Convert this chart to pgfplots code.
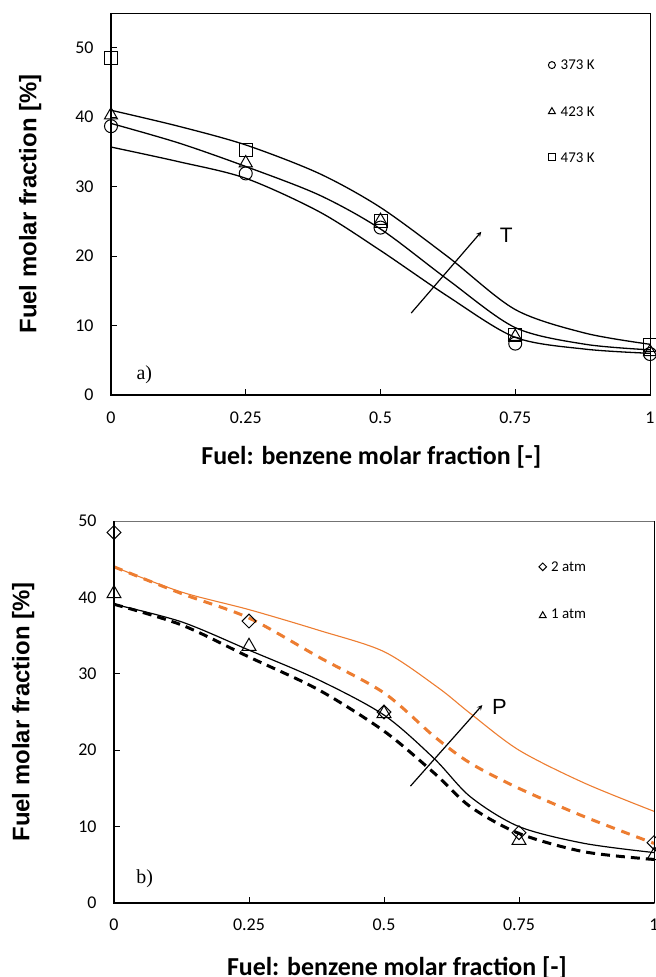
\documentclass[border=0pt]{standalone}
\usepackage{fontspec}
\setmainfont{Carlito}
\newfontfamily\lsans{Liberation Sans}
\newfontfamily\lserif{Liberation Serif}
\usepackage{pgfplots}
\pgfplotsset{compat=1.18}
\definecolor{exorange}{RGB}{237,125,49}
\pgfplotsset{
  panel/.style={
    scale only axis, height=382bp,
    xmin=0, xmax=1, ymin=0,
    xtick={0,0.25,0.5,0.75,1}, xticklabels={0,0.25,0.5,0.75,1},
    ytick={0,10,20,30,40,50},
    tick align=inside, xtick pos=left, ytick pos=left, major tick length=6bp,
    tick style={black, line width=0.8bp},
    ticklabel style={font=\fontsize{18}{20}\selectfont},
    /pgf/number format/assume math mode=true,
    yticklabel shift=14bp,
    clip=false,
  },
  curve/.style={smooth, no markers, black, line width=1.3bp},
  mk/.style={only marks, black, line width=1bp, mark options={solid, fill=white}},
}
\begin{document}
\begin{tikzpicture}
\useasboundingbox (0,0) rectangle (656bp,977bp);
% ---------- panel a ----------
\begin{axis}[panel, width=539bp, at={(111bp,582bp)}, anchor=south west, ymax=55,
  xticklabel shift=13bp,
  axis line style={line width=0.8bp, black},
  xlabel={Fuel: benzene molar fraction [-]},
  ylabel={Fuel molar fraction [\%]},
  every axis x label/.style={at={(rel axis cs:0.483,0)}, anchor=base, yshift=-70bp, font=\bfseries\fontsize{26}{28}\selectfont},
  every axis y label/.style={at={(rel axis cs:0,0.5)}, xshift=-74.5bp, rotate=90, anchor=base, font=\lsans\bfseries\fontsize{24}{26}\selectfont},
]
\addplot[curve] coordinates {(0,35.7)(0.125,33.6)(0.25,31.2)(0.386,26.4)(0.5,20.8)(0.625,14.2)(0.75,8.3)(0.88,6.6)(1,6.0)};
\addplot[curve] coordinates {(0,39.1)(0.125,36.3)(0.25,32.9)(0.386,28.8)(0.5,23.9)(0.625,16.6)(0.75,9.7)(0.88,7.3)(1,6.5)};
\addplot[curve] coordinates {(0,41.0)(0.125,38.7)(0.25,36.0)(0.386,31.9)(0.5,27.0)(0.625,19.9)(0.75,12.3)(0.88,8.9)(1,7.3)};
% data 373 K
\addplot[mk, mark=o, mark size=6.5bp] coordinates {(0,38.7)(0.25,31.9)(0.5,24.1)(0.75,7.4)(1,5.9)};
% data 423 K
\addplot[mk, mark=triangle, mark size=7.5bp, mark options={fill=none}] coordinates {(0,40.3)(0.25,33.4)(0.5,25.1)(0.75,8.4)(1,6.2)};
% data 473 K
\addplot[mk, mark=square, mark size=6.5bp, mark options={fill=none}] coordinates {(0,48.5)(0.25,35.3)(0.5,25.0)(0.75,8.6)(1,7.2)};
% legend markers
\addplot[mk, mark=o, mark size=3.5bp] coordinates {(0.818,47.5)};
\addplot[mk, mark=triangle, mark size=4bp] coordinates {(0.818,40.8)};
\addplot[mk, mark=square, mark size=3.5bp] coordinates {(0.818,34.2)};
\node[anchor=west, inner sep=0, font=\fontsize{15}{15}\selectfont] at (axis cs:0.834,47.5) {373 K};
\node[anchor=west, inner sep=0, font=\fontsize{15}{15}\selectfont] at (axis cs:0.834,40.8) {423 K};
\node[anchor=west, inner sep=0, font=\fontsize{15}{15}\selectfont] at (axis cs:0.834,34.2) {473 K};
% arrow
\draw[-stealth, line width=1.2bp] (axis cs:0.557,11.8) -- (axis cs:0.687,23.5);
\node[anchor=base west, inner sep=0, font=\lsans\fontsize{21}{21}\selectfont] at (axis cs:0.721,21.9) {T};
\node[anchor=base west, inner sep=0, font=\lserif\fontsize{20}{20}\selectfont] at (axis cs:0.047,2.2) {a)};
\draw[line width=2bp] (rel axis cs:0,1) -- (rel axis cs:0,0) -- (rel axis cs:1,0);
\end{axis}
% ---------- panel b ----------
\begin{axis}[panel, width=540bp, at={(114bp,74bp)}, anchor=south west, ymax=50,
  xticklabel shift=12bp,
  axis line style={line width=0.8bp, black!55},
  xlabel={Fuel: benzene molar fraction [-]},
  ylabel={Fuel molar fraction [\%]},
  every axis x label/.style={at={(rel axis cs:0.524,0)}, anchor=base, yshift=-72bp, font=\bfseries\fontsize{26}{28}\selectfont},
  every axis y label/.style={at={(rel axis cs:0,0.5)}, xshift=-84.5bp, rotate=90, anchor=base, font=\lsans\bfseries\fontsize{24}{26}\selectfont},
]
\addplot[smooth, no markers, exorange, line width=1.1bp] coordinates {(0,44.0)(0.125,40.7)(0.25,38.4)(0.379,35.7)(0.5,32.9)(0.6,28.2)(0.66,24.8)(0.75,20.0)(0.871,15.7)(1,12.0)};
\addplot[smooth, no markers, exorange, line width=3bp, dash pattern=on 9bp off 7bp] coordinates {(0,44.0)(0.125,40.5)(0.25,37.3)(0.379,32.2)(0.5,27.5)(0.593,21.8)(0.66,18.3)(0.75,15.0)(0.871,11.3)(1,7.8)};
\addplot[smooth, no markers, black, line width=1.2bp] coordinates {(0,39.1)(0.125,36.8)(0.25,33.1)(0.379,29.2)(0.5,24.6)(0.593,18.9)(0.66,13.9)(0.75,10.0)(0.871,7.8)(1,6.6)};
\addplot[smooth, no markers, black, line width=3bp, dash pattern=on 9bp off 6bp] coordinates {(0,39.1)(0.125,36.4)(0.25,32.2)(0.379,27.9)(0.5,22.5)(0.593,17.0)(0.66,12.6)(0.75,9.1)(0.871,6.7)(1,5.7)};
% data 2 atm
\addplot[mk, mark=square, mark size=4.9bp, mark options={rotate=45, fill=none}] coordinates {(0,48.5)(0.25,36.9)(0.5,25.0)(0.75,9.2)(1,7.9)};
% data 1 atm
\addplot[mk, mark=triangle, mark size=8bp, mark options={fill=none}] coordinates {(0,40.5)(0.25,33.6)(0.5,24.8)(0.75,8.2)(1,6.2)};
% legend markers
\addplot[mk, mark=square, mark size=2.7bp, mark options={rotate=45}] coordinates {(0.794,44.0)};
\addplot[mk, mark=triangle, mark size=4bp] coordinates {(0.794,37.6)};
\node[anchor=west, inner sep=0, font=\fontsize{15}{15}\selectfont] at (axis cs:0.809,44.0) {2 atm};
\node[anchor=west, inner sep=0, font=\fontsize{15}{15}\selectfont] at (axis cs:0.809,37.8) {1 atm};
\draw[-stealth, line width=1.2bp] (axis cs:0.549,15.3) -- (axis cs:0.682,25.9);
\node[anchor=base west, inner sep=0, font=\lsans\fontsize{22}{22}\selectfont] at (axis cs:0.70,24.7) {P};
\node[anchor=base west, inner sep=0, font=\lserif\fontsize{20}{20}\selectfont] at (axis cs:0.041,2.5) {b)};
\draw[line width=0.8bp] (rel axis cs:1,1) -- (rel axis cs:1,0);
\draw[line width=2bp] (rel axis cs:0,1) -- (rel axis cs:0,0) -- (rel axis cs:1,0);
\end{axis}
\end{tikzpicture}
\end{document}
